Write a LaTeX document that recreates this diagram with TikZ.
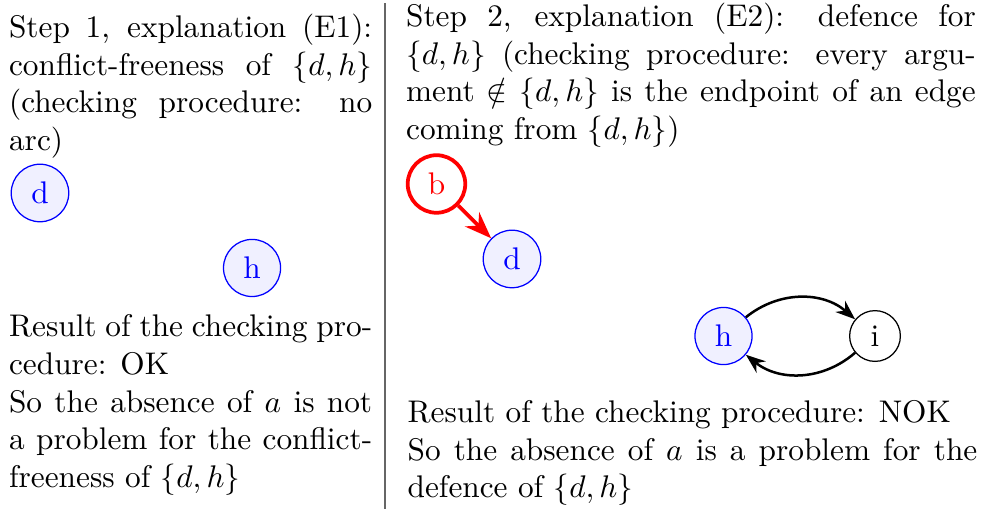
\documentclass[tikz,border=0pt]{standalone}
\usetikzlibrary{arrows.meta, positioning}
\definecolor{infill}{HTML}{F0F0FF}
\definecolor{sepgray}{HTML}{666666}
\tikzset{
  % argomento generico
  arg/.style={circle, draw, fill=white},
  % argomento dell'insieme {d,h}
  inarg/.style={arg, draw=blue, fill=infill, text=blue},
  % argomento attaccante
  atkarg/.style={arg, draw=red, text=red, very thick},
  % attacchi
  att/.style={-{Stealth[length=2.2mm]}, thick},
  atkatt/.style={-{Stealth[length=3mm]}, very thick, red},
  % blocchi di testo delle colonne
  para/.style={anchor=north west, inner sep=0pt, align=justify},
  lcol/.style={para, text width=116pt},
  rcol/.style={para, text width=182pt},
}
\begin{document}
\begin{tikzpicture}
  \useasboundingbox (0,0) rectangle (11.015,-5.749);
  % colonna sinistra
  \node[lcol] (s1) at (0.095,-0.152) {Step 1, explanation (E1): conflict-freeness of $\{d,h\}$ (checking procedure: no arc)};
  \node[inarg] (d1) at (0.449,-2.167) {d};
  \node[inarg] (h1) at (2.830,-3.009) {h};
  \node[lcol] (r1) at (0.095,-3.529) {Result of the checking procedure: OK\\ So the absence of $a$ is not a problem for the conflict-freeness of $\{d,h\}$};
  % separatore
  \coordinate (septop) at (4.323,-0.034);
  \coordinate (sepbot) at (4.323,-5.715);
  \draw[sepgray] (septop) -- (sepbot);
  % colonna destra
  \node[rcol] (s2) at (4.553,-0.028) {Step 2, explanation (E2): defence for $\{d,h\}$ (checking procedure: every argument $\notin \{d,h\}$ is the endpoint of an edge coming from $\{d,h\}$)};
  \node[atkarg] (b) at (4.901,-2.066) {b};
  \node[inarg] (d2) at (5.749,-2.908) {d};
  \node[inarg] (h2) at (8.124,-3.773) {h};
  \node[arg] (i) at (9.825,-3.773) {i};
  \draw[atkatt] (b) -- (d2);
  \draw[att] (h2) to[bend left=40] (i);
  \draw[att] (i) to[bend left=40] (h2);
  \node[rcol] (r2) at (4.570,-4.491) {Result of the checking procedure: NOK\\ So the absence of $a$ is a problem for the defence of $\{d,h\}$};
\end{tikzpicture}
\end{document}
